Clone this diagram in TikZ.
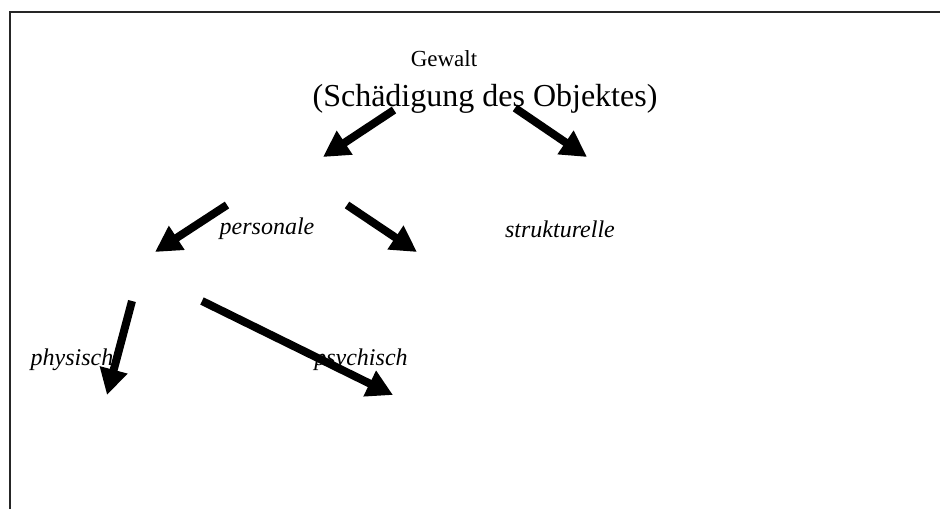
\documentclass[tikz,border=0pt]{standalone}
\usepackage{fontspec}
\setmainfont{Liberation Serif}
\usetikzlibrary{arrows.meta}
\tikzset{
  bigarrow/.style={line width=8pt,-{Triangle[length=26pt,width=27pt]}},
  label/.style={font=\fontsize{24}{27}\selectfont\itshape,inner sep=0pt,anchor=center},
  frameline/.style={line width=2.5pt,draw=black!85}
}
\begin{document}
\begin{tikzpicture}[x=1pt,y=-1pt]
\useasboundingbox (0,0) rectangle (940,509);
\draw[frameline] (10,509) -- (10,12) -- (940,12);
\node[inner sep=0pt] (gewalt) at (444,59) {\fontsize{23}{26}\selectfont Gewalt};
\node[inner sep=0pt] (schaed) at (485,99) {\fontsize{32}{36}\selectfont (Schädigung des Objektes)};
\node[label] (pers) at (267,229) {personale};
\node[label] (strukt) at (560,229) {strukturelle};
\node[label] (phys) at (72,360) {physisch};
\node[label] (psych) at (361,360) {psychisch};
\coordinate (a1s) at (394,110); \coordinate (a1e) at (323,157);
\coordinate (a2s) at (515,108); \coordinate (a2e) at (587,157);
\coordinate (a3s) at (227,205); \coordinate (a3e) at (155,252);
\coordinate (a4s) at (347,205); \coordinate (a4e) at (417,252);
\coordinate (a5s) at (132,301); \coordinate (a5e) at (107,395);
\coordinate (a6s) at (202,301); \coordinate (a6e) at (393,395);
\draw[bigarrow] (a1s) -- (a1e);
\draw[bigarrow] (a2s) -- (a2e);
\draw[bigarrow] (a3s) -- (a3e);
\draw[bigarrow] (a4s) -- (a4e);
\draw[bigarrow] (a5s) -- (a5e);
\draw[bigarrow] (a6s) -- (a6e);
\end{tikzpicture}
\end{document}
